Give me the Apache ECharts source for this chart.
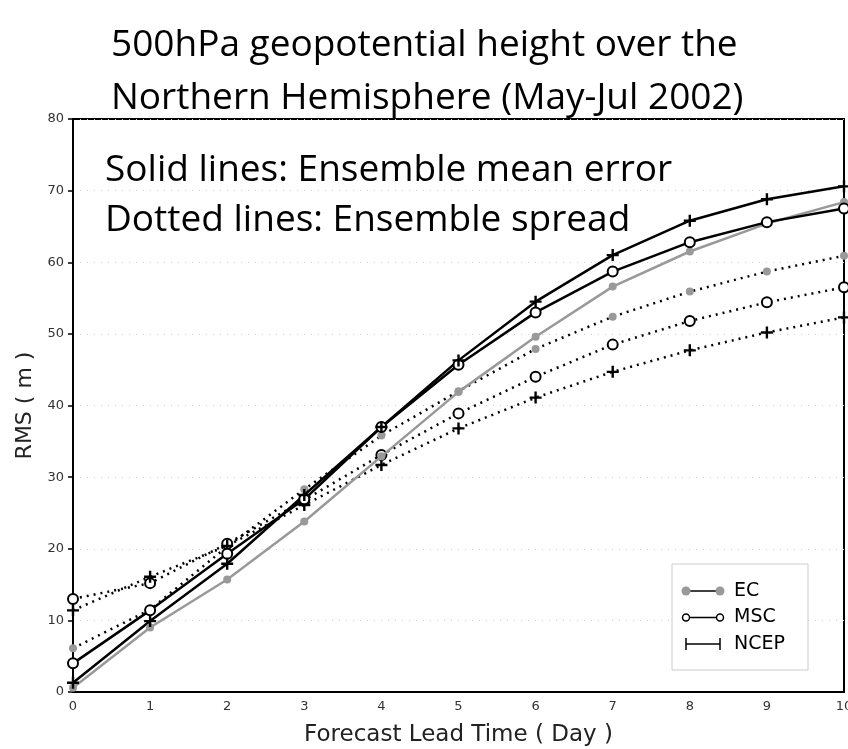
<!DOCTYPE html>
<html lang="en">
<head>
    <meta charset="UTF-8">
    <title>500hPa RMS</title>
    <script src="https://cdn.jsdelivr.net/npm/echarts@6/dist/echarts.min.js"></script>
    <style>
        html, body { margin: 0; background: #fff; overflow: hidden; }
    </style>
</head>
<body>
<div id="myChart" style="width: 848px; height: 749px;"></div>
<script>
    var days = [0, 1, 2, 3, 4, 5, 6, 7, 8, 9, 10];
    var yTicks = [0, 10, 20, 30, 40, 50, 60, 70, 80];

    // ensemble mean error (solid)
    var ecError = [0.6, 9.0, 15.7, 23.8, 32.9, 41.9, 49.6, 56.6, 61.5, 65.4, 68.4];
    var mscError = [4.0, 11.4, 19.3, 26.9, 37.0, 45.7, 53.0, 58.7, 62.8, 65.6, 67.5];
    var ncepError = [1.3, 9.9, 17.9, 27.5, 37.0, 46.3, 54.5, 61.0, 65.8, 68.8, 70.6];

    // ensemble spread (dotted)
    var ecSpread = [6.1, 11.5, 20.3, 28.3, 35.8, 42.0, 47.9, 52.4, 55.9, 58.7, 60.9];
    var mscSpread = [13.0, 15.2, 20.7, 26.8, 33.1, 38.9, 44.0, 48.5, 51.8, 54.4, 56.5];
    var ncepSpread = [11.4, 16.1, 20.4, 26.1, 31.7, 36.8, 41.1, 44.7, 47.7, 50.2, 52.3];

    var legendNames = ['EC', 'MSC', 'NCEP'];

    var plus = 'path://M4,0h2v4h4v2h-4v4h-2v-4h-4v-2h4z';

    function pairs(vals) {
        return days.map(function (d, i) { return [d, vals[i]]; });
    }

    function line(name, vals, color, dotted, symbol) {
        var s = {
            name: name,
            type: 'line',
            data: pairs(vals),
            lineStyle: { color: dotted ? '#000' : color, width: 2.5, type: dotted ? [2, 5] : 'solid' },
            symbol: 'circle',
            symbolSize: 8,
            itemStyle: { color: color },
            z: dotted ? 2 : 3,
            animation: false
        };
        if (symbol === 'open') {
            s.symbolSize = 10;
            s.itemStyle = { color: '#fff', borderColor: '#000', borderWidth: 2 };
        } else if (symbol === 'plus') {
            s.symbol = plus;
            s.symbolSize = 12;
            s.itemStyle = { color: '#000' };
        }
        return s;
    }

    // legend box: a line with a marker at each end, then the name
    var legendParts = [{
        type: 'rect',
        shape: { x: 672, y: 564, width: 136, height: 106 },
        style: { fill: '#fff', stroke: '#ccc', lineWidth: 1 },
        z: 20
    }];
    legendNames.forEach(function (name, i) {
        var y = 591 + i * 26.5;
        legendParts.push({
            type: 'line',
            shape: { x1: 686, y1: y, x2: 720, y2: y },
            style: { stroke: '#000', lineWidth: 1.5 },
            z: 21
        });
        [686, 720].forEach(function (x) {
            if (i === 0) {
                legendParts.push({ type: 'circle', shape: { cx: x, cy: y, r: 4.5 }, style: { fill: '#999' }, z: 22 });
            } else if (i === 1) {
                legendParts.push({ type: 'circle', shape: { cx: x, cy: y, r: 3.5 }, style: { fill: '#fff', stroke: '#000', lineWidth: 1.5 }, z: 22 });
            } else {
                legendParts.push({ type: 'line', shape: { x1: x, y1: y - 6, x2: x, y2: y + 6 }, style: { stroke: '#000', lineWidth: 1.5 }, z: 22 });
            }
        });
        legendParts.push({
            type: 'text',
            x: 734,
            y: y,
            style: { text: name, font: '19px "DejaVu Sans"', fill: '#000', verticalAlign: 'middle' },
            z: 22
        });
    });

    var chart = echarts.init(document.getElementById('myChart'));
    chart.setOption({
        backgroundColor: '#fff',
        title: {
            text: '500hPa geopotential height over the\nNorthern Hemisphere (May-Jul 2002)',
            left: 106,
            top: 14,
            textStyle: { fontFamily: 'Open Sans', fontWeight: 'normal', fontSize: 37, lineHeight: 53, color: '#000' }
        },
        grid: {
            left: 73, right: 4, top: 119, bottom: 57,
            outerBoundsMode: 'none',
            show: true, borderColor: '#000', borderWidth: 2
        },
        xAxis: {
            type: 'value',
            min: 0,
            max: 10,
            interval: 1,
            name: 'Forecast Lead Time ( Day )',
            nameLocation: 'middle',
            nameGap: 32,
            nameTextStyle: { fontFamily: 'DejaVu Sans', fontSize: 23, color: '#222' },
            axisLine: { lineStyle: { color: '#000', width: 2 } },
            axisTick: { show: false },
            axisLabel: { fontFamily: 'DejaVu Sans', fontSize: 13, color: '#333', margin: 8 },
            splitLine: { show: false }
        },
        yAxis: {
            type: 'value',
            min: yTicks[0],
            max: yTicks[yTicks.length - 1],
            interval: 10,
            name: 'RMS ( m )',
            nameLocation: 'middle',
            nameGap: 33,
            nameTextStyle: { fontFamily: 'DejaVu Sans', fontSize: 22, color: '#222' },
            axisLine: { lineStyle: { color: '#000', width: 2 } },
            axisTick: { show: true, length: 5, lineStyle: { color: '#000', width: 1.5 } },
            axisLabel: { fontFamily: 'DejaVu Sans', fontSize: 13, color: '#333', margin: 9 },
            splitLine: { show: true, lineStyle: { color: '#ccc', type: [1, 6], width: 1 } }
        },
        graphic: [{
            type: 'text',
            left: 105,
            top: 145,
            style: {
                text: 'Solid lines: Ensemble mean error\nDotted lines: Ensemble spread',
                font: '37px "Open Sans"',
                lineHeight: 50,
                fill: '#000'
            },
            z: 10
        }].concat(legendParts),
        series: [
            line('EC spread', ecSpread, '#999', true),
            line('MSC spread', mscSpread, '#000', true, 'open'),
            line('NCEP spread', ncepSpread, '#000', true, 'plus'),
            line('EC', ecError, '#999', false),
            line('MSC', mscError, '#000', false, 'open'),
            line('NCEP', ncepError, '#000', false, 'plus')
        ]
    });
</script>
</body>
</html>
